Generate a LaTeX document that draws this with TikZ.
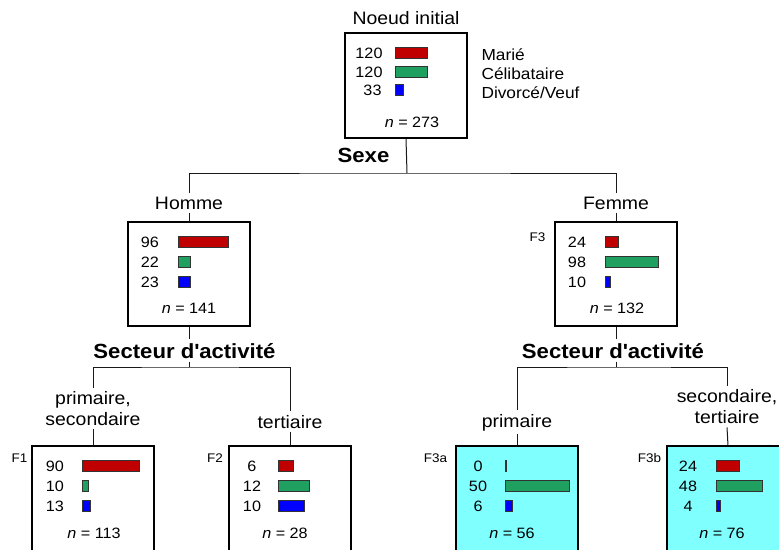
\documentclass[tikz,border=0pt]{standalone}
\usepackage{fontspec}
\setmainfont{Liberation Sans}[FakeStretch=1.08]
\usepackage{tikz}

\definecolor{rouge}{RGB}{192,0,0}
\definecolor{vert}{RGB}{32,160,96}
\definecolor{bleu}{RGB}{0,0,255}
\definecolor{cyanclair}{RGB}{128,255,255}

% one row of a box: name, x of number, y, number, x of bar, bar width, colour
\newcommand{\cntrow}[7]{%
	\node[num] (#1) at (#2,#3) {#4};
	\draw[barre, fill=#7] (#5,#3-5.5) rectangle ++(#6,11);
}

\begin{document}
\begin{tikzpicture}[x=1pt, y=-1pt,
		lbl/.style={font=\fontsize{18}{21}\selectfont, anchor=base},
		crit/.style={font=\bfseries\fontsize{20.5}{24}\selectfont, anchor=base},
		num/.style={font=\fontsize{15}{18}\selectfont},
		leg/.style={font=\fontsize{16}{19}\selectfont, anchor=base west},
		tag/.style={font=\fontsize{12.5}{15}\selectfont},
		boite/.style={draw, line width=1.1pt, minimum width=122, minimum height=104},
		feuille/.style={boite, fill=cyanclair},
		barre/.style={draw=black!80, line width=0.6pt},
		lien/.style={line width=1pt, black!90}]
		\useasboundingbox (0,0) rectangle (779,549);
		% boxes
		\node[boite, minimum height=105] (n0) at (406,85.5) {};
		\node[boite] (nH) at (189,274) {};
		\node[boite] (nF) at (616,274) {};
		\node[boite, minimum height=114] (nF1) at (93,503) {};
		\node[boite, minimum height=114] (nF2) at (290,503) {};
		\node[feuille, minimum height=114] (nF3a) at (517,503) {};
		\node[feuille, minimum height=114] (nF3b) at (728,503) {};
		% root counts
		\cntrow{r0a}{369}{53}{120}{395}{32}{rouge}
		\cntrow{r0b}{369}{72}{120}{395}{32}{vert}
		\cntrow{r0c}{372.5}{90}{33}{395}{8}{bleu}
		\node[num] (t0) at (412,122) {\textit{n} = 273};
		\node[leg] (gM) at (478,60) {Marié};
		\node[leg] (gC) at (478,79) {Célibataire};
		\node[leg] (gD) at (478,98) {Divorcé/Veuf};
		% homme
		\cntrow{rHa}{150}{242}{96}{178}{50}{rouge}
		\cntrow{rHb}{150}{262}{22}{178}{12}{vert}
		\cntrow{rHc}{150}{282}{23}{178}{12}{bleu}
		\node[num] (tH) at (189,308) {\textit{n} = 141};
		% femme
		\cntrow{rFa}{577}{242}{24}{605}{13}{rouge}
		\cntrow{rFb}{577}{262}{98}{605}{53}{vert}
		\cntrow{rFc}{577}{282}{10}{605}{5}{bleu}
		\node[num] (tF) at (617,308) {\textit{n} = 132};
		% leaves
		\cntrow{r1a}{55}{466}{90}{82}{57}{rouge}
		\cntrow{r1b}{55}{486}{10}{82}{6.5}{vert}
		\cntrow{r1c}{55}{506}{13}{82}{8}{bleu}
		\node[num] (t1) at (94,533) {\textit{n} = 113};
		\cntrow{r2a}{252}{466}{6}{278}{15}{rouge}
		\cntrow{r2b}{252}{486}{12}{278}{31}{vert}
		\cntrow{r2c}{252}{506}{10}{278}{26}{bleu}
		\node[num] (t2) at (285,533) {\textit{n} = 28};
		\cntrow{r3a}{478}{466}{0}{505.7}{0.8}{rouge}
		\cntrow{r3b}{478}{486}{50}{505.7}{64}{vert}
		\cntrow{r3c}{478}{506}{6}{505.7}{7}{bleu}
		\node[num] (t3) at (512,533) {\textit{n} = 56};
		\cntrow{r4a}{688}{466}{24}{716}{23}{rouge}
		\cntrow{r4b}{688}{486}{48}{716}{46}{vert}
		\cntrow{r4c}{688}{506}{4}{716}{4}{bleu}
		\node[num] (t4) at (722,533) {\textit{n} = 76};
		% tags
		\node[tag] (fF) at (537.5,237.5) {F3};
		\node[tag] (f1) at (19.5,458) {F1};
		\node[tag] (f2) at (215,458) {F2};
		\node[tag] (f3a) at (435.5,458) {F3a};
		\node[tag] (f3b) at (649.5,458) {F3b};
		% labels
		\node[lbl] (l0) at (406,24) {Noeud initial};
		\node[crit] (s0) at (363.5,162) {Sexe};
		\node[lbl] (lH) at (189,209) {Homme};
		\node[lbl] (lF) at (616,209) {Femme};
		\node[crit] (sH) at (184.5,358) {Secteur d\textquotesingle activité};
		\node[crit] (sF) at (613,358) {Secteur d\textquotesingle activité};
		\node[lbl, anchor=north, align=center] (lF1) at (93,388) {primaire,\\secondaire};
		\node[lbl] (lF2) at (290,428) {tertiaire};
		\node[lbl] (lF3a) at (517,427) {primaire};
		\node[lbl, anchor=north, align=center] (lF3b) at (727,386) {secondaire,\\tertiaire};
		% splits
		\coordinate (j0) at (407,173);
		\coordinate (j1) at (189,367);
		\coordinate (j2) at (616,367);
		\draw[lien] (n0.south) -- (j0);
		\draw[lien] (lH.north) |- (j0) -| (lF.north);
		\draw[lien] (lH.south) -- (nH.north);
		\draw[lien] (lF.south) -- (nF.north);
		\draw[lien] (nH.south) -- (nH.south |- sH.north);
		\draw[lien] (nH.south |- sH.south) -- (j1);
		\draw[lien] (nF.south) -- (nF.south |- sF.north);
		\draw[lien] (nF.south |- sF.south) -- (j2);
		\draw[lien] (lF1.north) |- (j1) -| (lF2.north);
		\draw[lien] (lF3a.north) |- (j2) -| (lF3b.north);
		\draw[lien] (lF1.south) -- (nF1.north);
		\draw[lien] (lF2.south) -- (nF2.north);
		\draw[lien] (lF3a.south) -- (nF3a.north);
		\draw[lien] (lF3b.south) -- (nF3b.north);
	\end{tikzpicture}
\end{document}
